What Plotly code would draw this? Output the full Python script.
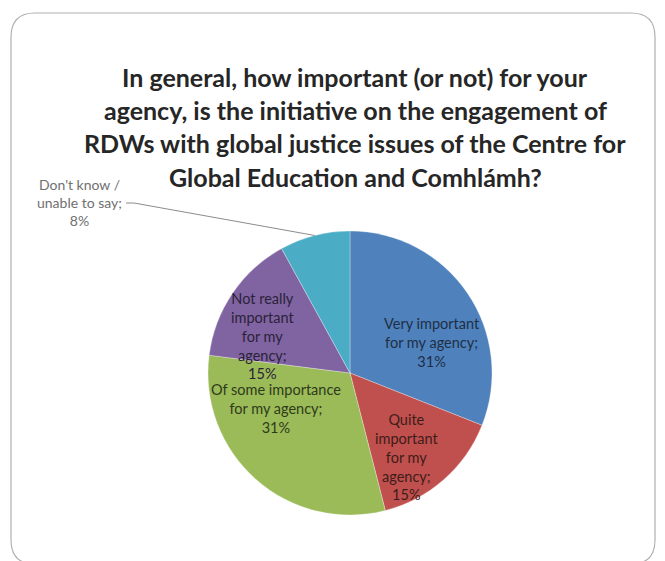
import math
import plotly.graph_objects as go

# ---- data ----
categories = [
    "Very important for my agency",
    "Quite important for my agency",
    "Of some importance for my agency",
    "Not really important for my agency",
    "Don't know / unable to say",
]
label_texts = [
    "Very important<br>for my agency;<br>31%",
    "Quite<br>important<br>for my<br>agency;<br>15%",
    "Of some importance<br>for my agency;<br>31%",
    "Not really<br>important<br>for my<br>agency;<br>15%",
    "Don't know /<br>unable to say;<br>8%",
]
values = [31, 15, 31, 15, 8]
colors = ["#4F81BD", "#C0504D", "#9BBB59", "#8064A2", "#4BACC6"]
label_colors = ["#1E2F45", "#3E1C1B", "#2E3A1A", "#2C2238", "#707070"]
title_lines = [
    "In general, how important (or not) for your",
    "agency, is the initiative on the engagement of",
    "RDWs with global justice issues of the Centre for",
    "Global Education and Comhlámh?",
]

W, H = 665, 561
FONT = "Lato"

# pie geometry (pixels)
cx, cy, r = 350, 373, 142

fig = go.Figure()
fig.add_trace(go.Pie(
    labels=categories,
    values=values,
    sort=False,
    direction="clockwise",
    rotation=0,
    marker=dict(colors=colors, line=dict(color="rgba(255,255,255,0.6)", width=0.5)),
    textinfo="none",
    hoverinfo="label+percent",
    showlegend=False,
    domain=dict(x=[(cx - r) / W, (cx + r) / W], y=[(H - cy - r) / H, (H - cy + r) / H]),
))

def px(x):
    return x / W

def py(y):
    return 1 - y / H

annotations = []
# title lines
title_y = [77, 110, 143, 177]
for line, y in zip(title_lines, title_y):
    annotations.append(dict(
        text="<b>" + line + "</b>", x=px(355), y=py(y), xref="paper", yref="paper",
        showarrow=False, xanchor="center", yanchor="middle",
        font=dict(family=FONT, size=25, color="#262626"),
    ))

# slice labels (positions chosen as in the reference)
label_pos = [(432, 342), (406, 457), (276, 408), (262, 336)]
for i, (x, y) in enumerate(label_pos):
    annotations.append(dict(
        text=label_texts[i], x=px(x), y=py(y), xref="paper", yref="paper",
        showarrow=False, xanchor="center", yanchor="middle", align="center",
        font=dict(family=FONT, size=14.5, color=label_colors[i]),
    ))

# outside label for last slice
annotations.append(dict(
    text=label_texts[4], x=px(79), y=py(202), xref="paper", yref="paper",
    showarrow=False, xanchor="center", yanchor="middle", align="center",
    font=dict(family=FONT, size=14, color=label_colors[4]),
))

# leader line to middle of last slice edge
start = sum(values[:4]) / sum(values)
mid = (start + 1.0) / 2 * 2 * math.pi
ex = cx + r * math.sin(mid)
ey = cy - r * math.cos(mid)
shapes = [
    dict(type="path", xref="paper", yref="paper",
         path=f"M {px(126)} {py(203)} L {px(134)} {py(203)} L {px(ex)} {py(ey)}",
         line=dict(color="#8C8C8C", width=1)),
]

# rounded frame
x0, x1, y0, y1, rr = 11, 655, 13, 564, 24
frame = (f"M {px(x0 + rr)} {py(y0)} L {px(x1 - rr)} {py(y0)} "
         f"Q {px(x1)} {py(y0)} {px(x1)} {py(y0 + rr)} "
         f"L {px(x1)} {py(y1 - rr)} Q {px(x1)} {py(y1)} {px(x1 - rr)} {py(y1)} "
         f"L {px(x0 + rr)} {py(y1)} Q {px(x0)} {py(y1)} {px(x0)} {py(y1 - rr)} "
         f"L {px(x0)} {py(y0 + rr)} Q {px(x0)} {py(y0)} {px(x0 + rr)} {py(y0)} Z")
shapes.append(dict(type="path", xref="paper", yref="paper", path=frame,
                   line=dict(color="#B0B0B0", width=1.2), layer="below"))

fig.update_layout(
    width=W, height=H,
    margin=dict(l=0, r=0, t=0, b=0),
    paper_bgcolor="white", plot_bgcolor="white",
    annotations=annotations,
    shapes=shapes,
    font=dict(family=FONT),
)

fig.write_html(
    "out.html",
    config={"displayModeBar": False},
    post_script="document.body.style.margin='0px';document.body.style.overflow='hidden';",
)
